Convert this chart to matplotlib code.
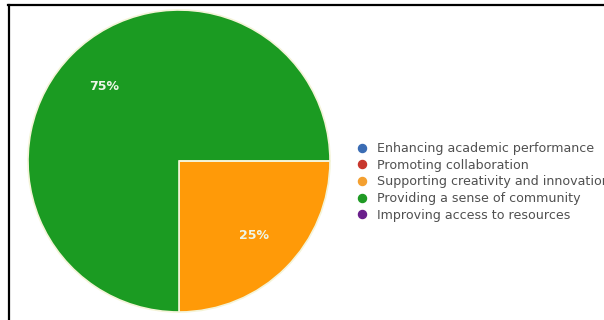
import matplotlib.pyplot as plt
from matplotlib.lines import Line2D

labels = ['Enhancing academic performance', 'Promoting collaboration',
          'Supporting creativity and innovation', 'Providing a sense of community',
          'Improving access to resources']
shares = [0, 0, 25, 75, 0]
colors = ['#3a6cb4', '#c8372d', '#f4a030', '#1f9a24', '#6a1f8c']
slice_colors = ['#3a6cb4', '#c8372d', '#ff9a08', '#1b9b22', '#6a1f8c']

fig = plt.figure(figsize=(6.04, 3.2), dpi=100)
fig.patch.set_facecolor('white')

# frame lines (top and left) like the screenshot
fig.add_artist(Line2D([8/604, 1], [1 - 5/320, 1 - 5/320], color='black', lw=1.6))
fig.add_artist(Line2D([9/604, 9/604], [0, 1 - 5/320], color='black', lw=1.6))

ax = fig.add_axes([(179 - 151)/604, (320 - 161 - 151)/320, 302/604, 302/320])
wedges, texts, autotexts = ax.pie(
    shares, colors=slice_colors, startangle=0, counterclock=False,
    autopct=lambda p: f'{p:.0f}%' if p > 0 else '', pctdistance=0.70,
    wedgeprops=dict(edgecolor='#f4f4d8', linewidth=1.2),
    textprops=dict(color='#eef6e8', fontsize=9, fontweight='bold'))
ax.set_xlim(-1.0, 1.0)
ax.set_ylim(-1.0, 1.0)
ax.set_aspect('equal')

handles = [Line2D([], [], marker='o', linestyle='', color=c, markersize=5.8) for c in colors]
fig.legend(handles, labels, loc='center left', bbox_to_anchor=(357/604, 1 - 182/320),
           frameon=False, fontsize=9.1, handlelength=0.8, handletextpad=0.78,
           labelspacing=0.29, borderpad=0, borderaxespad=0, labelcolor='#505050')

fig.savefig('out.png', dpi=100)
